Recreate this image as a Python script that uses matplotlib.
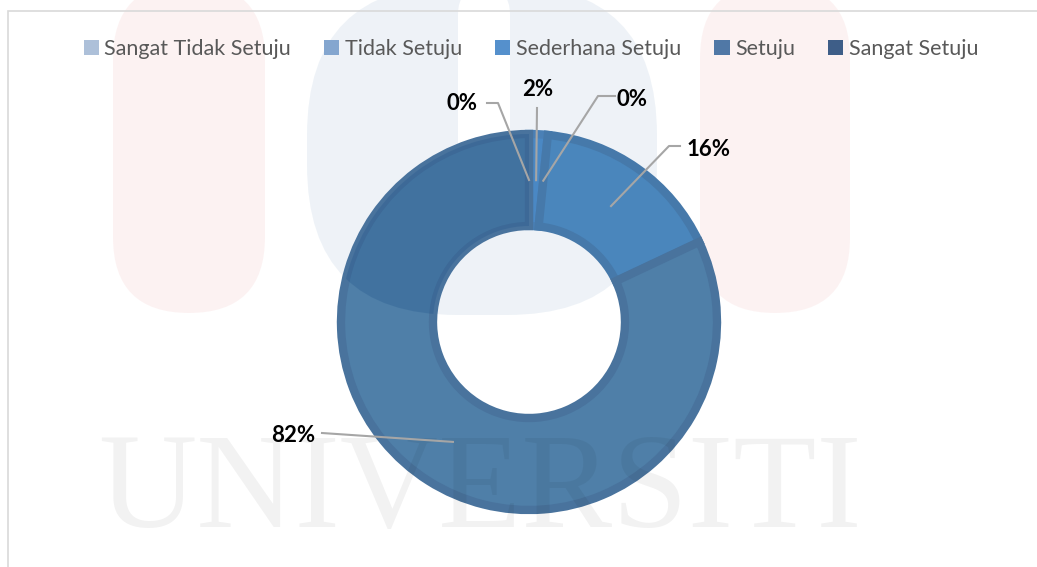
import matplotlib
matplotlib.use("Agg")
import matplotlib.pyplot as plt
import numpy as np
from matplotlib.patches import Patch, FancyBboxPatch, Rectangle

# survey answers (share of respondents, %)
categories = ["Sangat Tidak Setuju", "Tidak Setuju", "Sederhana Setuju", "Setuju", "Sangat Setuju"]
values = [0.0, 1.6, 0.0, 16.4, 82.0]
legend_colors = ["#adc0d9", "#84a6cf", "#5590cc", "#5078a6", "#3e5e88"]
slice_colors = ["#a9bdd6", "#4a88c4", "#4a88c4", "#4a86bc", "#4f7fa8"]
edge_colors = ["#a9bdd6", "#4a80b6", "#4a80b6", "#4679aa", "#49739d"]

# label text positions and leader start/elbow (pixels from top-left)
label_pos = [(462, 104), (538, 90), (632, 100), (709, 149), (293, 435)]
leader_start = [(487, 103), (537, 108), (615, 96), (680, 146), (322, 433)]
leader_elbow = [(498, 103), (537, 108), (598, 96), (669, 146), (322, 433)]

W, H = 1037, 567
fig = plt.figure(figsize=(W / 100, H / 100), dpi=100)
ax = fig.add_axes([0, 0, 1, 1])

cx, cy = 529, H - 322
r_out, r_in = 188, 96

# faint watermark (logo under the chart, text over it)
for x0, w in [(113, 152), (700, 150)]:
    ax.add_patch(FancyBboxPatch((x0, H - 313), w, 330, boxstyle="round,pad=0,rounding_size=%d" % (w // 2),
                                fc="#e05050", ec="none", alpha=0.07, zorder=0))
ax.add_patch(FancyBboxPatch((307, H - 315), 350, 330, boxstyle="round,pad=0,rounding_size=150",
                            fc="#2a64a0", ec="none", alpha=0.08, zorder=0.5))
ax.add_patch(FancyBboxPatch((458, H - 188), 52, 200, boxstyle="round,pad=0,rounding_size=26",
                            fc="white", ec="none", zorder=0.6))

wedges, _ = ax.pie(values, colors=slice_colors, startangle=90, counterclock=False,
                   radius=r_out, center=(cx, cy),
                   wedgeprops=dict(width=r_out - r_in, linewidth=6))
for w, ec in zip(wedges, edge_colors):
    w.set_edgecolor(ec)
    w.set_zorder(2)

# logo tint showing through the big slice
tint = FancyBboxPatch((307, H - 315), 350, 330, boxstyle="round,pad=0,rounding_size=150",
                      fc="#1a4f88", ec="none", alpha=0.25, zorder=3)
ax.add_patch(tint)
tint.set_clip_path(wedges[4])

ax.text(480, H - 494, "UNIVERSITI", family="Liberation Serif", fontsize=98,
        color="black", alpha=0.05, ha="center", va="center", zorder=6)

r_mid = (r_out + r_in) / 2
for w, v, (tx, ty), (sx, sy), (ex, ey) in zip(wedges, values, label_pos, leader_start, leader_elbow):
    a = np.radians((w.theta1 + w.theta2) / 2)
    px, py = cx + r_mid * np.cos(a), cy + r_mid * np.sin(a)
    ax.plot([sx, ex, px], [H - sy, H - ey, py], color="#a6a6a6", lw=1.5, zorder=7)
    ax.text(tx, H - ty, "%.0f%%" % v, fontsize=16, fontweight="bold", family="Lato",
            color="black", ha="center", va="center", zorder=8)

# chart border
ax.add_patch(Rectangle((8, -5), W, H - 11 + 5, fill=False, ec="#d9d9d9", lw=1.2, zorder=1))

handles = [Patch(facecolor=c, edgecolor="none") for c in legend_colors]
leg = ax.legend(handles, categories, loc="center", bbox_to_anchor=(531 / W, 1 - 49 / H),
                ncol=5, frameon=False, handlelength=0.7, handleheight=0.7, handletextpad=0.25,
                columnspacing=1.55, prop=dict(family="Lato", size=15.5))
for t in leg.get_texts():
    t.set_color("#595959")

ax.set_xlim(0, W)
ax.set_ylim(0, H)
ax.set_aspect("equal")
ax.axis("off")
fig.savefig("out.png", dpi=100)
